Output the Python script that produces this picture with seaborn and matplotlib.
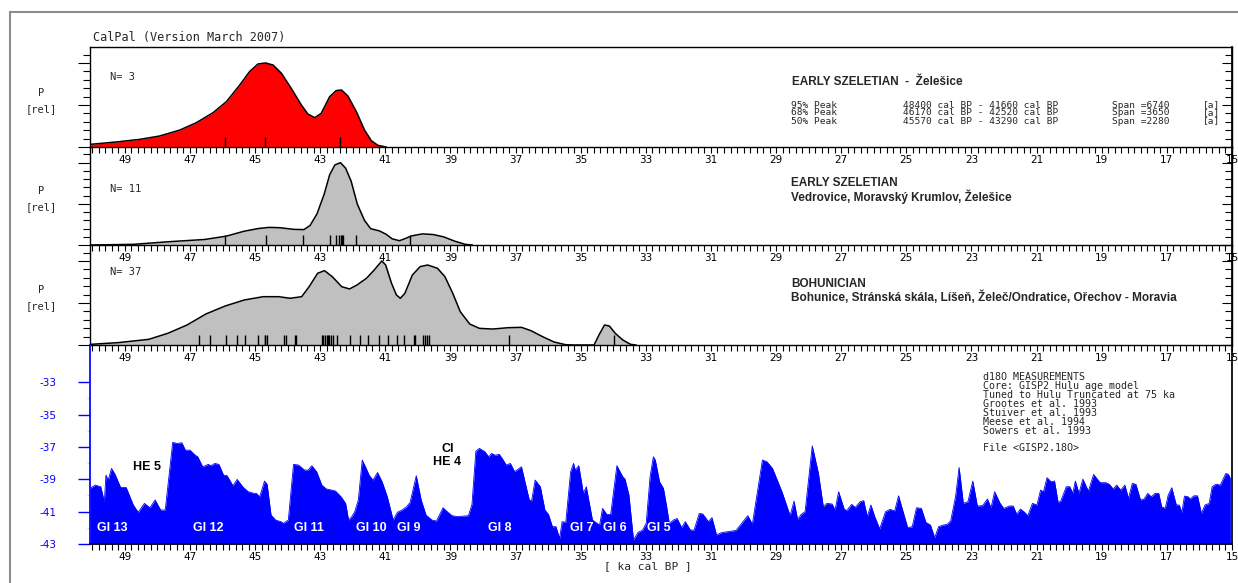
#!/usr/bin/env python3
'''
CalPal style summed probability plots of radiocarbon dates
(Early Szeletian / Bohunician) over the GISP2 d18O curve.
'''
import matplotlib
matplotlib.use("Agg")
import matplotlib.pyplot as plt
from matplotlib.patches import Rectangle
from matplotlib.ticker import MultipleLocator
import seaborn as sns

# --- data (ka cal BP) ---
ka_zel = [50.05, 49.26, 48.54, 47.93, 47.31, 46.80, 46.29, 45.88, 45.47, 45.17,
          44.91, 44.68, 44.45, 44.19, 43.89, 43.58, 43.38, 43.17, 42.97, 42.71,
          42.51, 42.35, 42.15, 41.89, 41.64, 41.43, 41.23, 40.97]
p_zel = [0.032, 0.06, 0.091, 0.131, 0.202, 0.29, 0.409, 0.54, 0.738, 0.897,
         0.988, 1.0, 0.976, 0.877, 0.698, 0.50, 0.393, 0.349, 0.40, 0.599,
         0.671, 0.679, 0.607, 0.421, 0.202, 0.075, 0.02, 0.0]
dates_zel = [45.91, 44.71, 42.40]

ka_szel = [50.05, 48.74, 47.64, 46.55, 45.89, 45.34, 44.90, 44.57, 44.24, 43.81,
           43.50, 43.31, 43.10, 42.88, 42.71, 42.55, 42.38, 42.22, 42.05, 41.86,
           41.64, 41.45, 41.18, 40.98, 40.79, 40.57, 40.41, 40.19, 39.86, 39.53,
           39.21, 38.88, 38.55, 38.33]
p_szel = [0.0, 0.008, 0.04, 0.067, 0.107, 0.167, 0.20, 0.214, 0.21, 0.19,
          0.187, 0.238, 0.377, 0.615, 0.853, 0.972, 1.0, 0.933, 0.774, 0.496,
          0.298, 0.198, 0.171, 0.131, 0.075, 0.052, 0.075, 0.111, 0.135, 0.127,
          0.099, 0.048, 0.008, 0.0]
dates_szel = [45.91, 44.68, 43.53, 42.69, 42.52, 42.43, 42.37, 42.33, 42.29,
              41.91, 40.25]

ka_bohu = [50.05, 49.21, 48.27, 47.68, 47.09, 46.51, 45.92, 45.33, 44.75, 44.28,
           43.92, 43.57, 43.34, 43.08, 42.87, 42.63, 42.34, 42.10, 41.87, 41.58,
           41.34, 41.11, 40.99, 40.81, 40.66, 40.54, 40.40, 40.17, 39.93, 39.70,
           39.40, 39.17, 38.93, 38.70, 38.41, 38.11, 37.70, 37.23, 36.82, 36.53,
           36.17, 35.82, 35.47, 35.23, 34.59, 34.44, 34.27, 34.12, 33.94, 33.71,
           33.47, 33.30]
p_bohu = [0.008, 0.028, 0.067, 0.139, 0.238, 0.369, 0.464, 0.536, 0.575, 0.575,
          0.556, 0.575, 0.694, 0.853, 0.885, 0.813, 0.694, 0.667, 0.714, 0.794,
          0.893, 1.0, 0.952, 0.734, 0.595, 0.556, 0.615, 0.833, 0.933, 0.952,
          0.913, 0.813, 0.615, 0.397, 0.25, 0.198, 0.19, 0.206, 0.21, 0.171,
          0.099, 0.036, 0.004, 0.0, 0.0, 0.119, 0.238, 0.226, 0.139, 0.06,
          0.008, 0.0]
dates_bohu = [46.72, 46.37, 45.88, 45.57, 45.31, 44.92, 44.71, 44.69, 44.63,
              44.10, 44.04, 43.78, 43.74, 42.95, 42.90, 42.85, 42.80, 42.76,
              42.74, 42.68, 42.61, 42.49, 42.08, 41.77, 41.52, 41.19, 40.92,
              40.64, 40.44, 40.13, 40.08, 39.84, 39.78, 39.72, 39.67, 37.21,
              33.97]

ka_gisp = [50.07, 49.91, 49.74, 49.63, 49.58, 49.51, 49.41, 49.30, 49.13, 48.96,
           48.74, 48.59, 48.40, 48.23, 48.07, 47.90, 47.76, 47.53, 47.39, 47.25,
           47.14, 47.00, 46.84, 46.76, 46.61, 46.44, 46.35, 46.24, 46.11, 45.97,
           45.86, 45.68, 45.55, 45.38, 45.21, 45.04, 44.96, 44.86, 44.71, 44.63,
           44.51, 44.37, 44.21, 44.13, 43.98, 43.82, 43.67, 43.48, 43.37, 43.26,
           43.11, 42.95, 42.81, 42.64, 42.53, 42.36, 42.22, 42.13, 42.03, 41.94,
           41.83, 41.71, 41.61, 41.50, 41.38, 41.24, 41.10, 40.94, 40.76, 40.63,
           40.49, 40.35, 40.24, 40.05, 39.90, 39.75, 39.57, 39.43, 39.23, 39.08,
           38.95, 38.78, 38.45, 38.34, 38.22, 38.11, 37.94, 37.83, 37.74, 37.63,
           37.50, 37.38, 37.29, 37.16, 37.03, 36.82, 36.58, 36.51, 36.40, 36.24,
           36.10, 35.99, 35.87, 35.76, 35.65, 35.57, 35.46, 35.31, 35.22, 35.17,
           35.06, 34.92, 34.83, 34.64, 34.42, 34.33, 34.20, 34.08, 33.89, 33.71,
           33.64, 33.52, 33.38, 33.24, 33.10, 32.99, 32.87, 32.77,
           32.71, 32.58, 32.46, 32.37, 32.28, 32.15, 32.04, 31.90, 31.79, 31.63,
           31.52, 31.36, 31.25, 31.08, 30.97, 30.83, 30.68, 30.23, 29.87, 29.73,
           29.42, 29.28, 29.11, 28.82, 28.57, 28.45, 28.34, 28.23, 28.11, 27.89,
           27.70, 27.55, 27.44, 27.28, 27.19, 27.08, 26.91, 26.83, 26.68, 26.57,
           26.42, 26.31, 26.20, 26.09, 25.97, 25.82, 25.64, 25.50, 25.36, 25.24,
           24.96, 24.82, 24.69, 24.54, 24.40, 24.26, 24.13, 24.01, 23.87, 23.75,
           23.64, 23.49, 23.38, 23.25, 23.11, 22.96, 22.82, 22.66, 22.51, 22.40,
           22.29, 22.12, 22.01, 21.83, 21.72, 21.61, 21.50, 21.39, 21.27, 21.13,
           20.99, 20.88, 20.79, 20.68, 20.56, 20.45, 20.34, 20.26, 20.09, 19.98,
           19.89, 19.81, 19.70, 19.58, 19.41, 19.25, 19.05, 18.87, 18.76, 18.65,
           18.54, 18.42, 18.29, 18.18, 18.06, 17.95, 17.81, 17.70, 17.59, 17.48,
           17.36, 17.25, 17.16, 17.05, 16.96, 16.85, 16.71, 16.62, 16.54, 16.46,
           16.35, 16.28, 16.17, 16.06, 15.94, 15.83, 15.70, 15.61, 15.49, 15.36,
           15.19, 15.11, 15.05]
d18o = [-39.56, -39.36, -39.46, -40.39, -38.74, -39.05, -38.33, -38.70, -39.50, -39.50,
        -40.59, -41.04, -40.49, -40.76, -40.28, -40.90, -40.90, -36.72, -36.79, -36.74,
        -37.20, -37.20, -37.51, -37.61, -38.23, -38.08, -38.16, -38.02, -38.08, -38.74,
        -38.78, -39.40, -39.01, -39.46, -39.77, -39.87, -39.87, -40.08, -39.11, -39.32,
        -41.21, -41.52, -41.62, -41.72, -41.52, -38.08, -38.12, -38.43, -38.43, -38.16,
        -38.53, -39.36, -39.60, -39.67, -39.73, -40.08, -40.49, -41.52, -41.31, -41.00,
        -40.28, -37.81, -38.23, -38.74, -39.05, -38.58, -39.15, -40.08, -41.52, -41.04,
        -40.90, -40.70, -40.43, -38.78, -40.28, -41.21, -41.52, -41.58, -40.76, -41.04,
        -41.25, -41.31, -41.25, -40.55, -37.26, -37.09, -37.30, -37.61, -37.40, -37.51,
        -37.46, -37.81, -38.12, -38.02, -38.53, -38.23, -40.28, -40.35, -39.05, -39.46,
        -40.90, -41.17, -41.93, -41.93, -42.65, -41.62, -41.66, -38.53, -38.02, -38.43,
        -38.16, -39.87, -39.46, -41.52, -41.83, -40.80, -41.17, -41.17, -38.16, -38.84,
        -38.99, -39.97, -42.75, -42.28, -42.14, -41.72, -38.84, -37.61,
        -37.81, -39.15, -39.56, -40.59, -41.72, -41.52, -41.42, -41.99, -41.62, -42.14,
        -42.14, -41.11, -41.15, -41.62, -41.37, -42.44, -42.30, -42.16, -41.25, -41.77,
        -37.81, -37.92, -38.33, -39.77, -41.25, -40.35, -41.48, -41.17, -41.00, -36.93,
        -38.64, -40.70, -40.49, -40.53, -40.90, -39.77, -40.84, -40.94, -40.55, -40.74,
        -40.39, -40.32, -41.31, -40.59, -41.31, -42.07, -41.00, -40.86, -40.96, -40.02,
        -41.99, -41.93, -40.76, -40.80, -41.66, -41.83, -42.61, -41.93, -41.83, -41.79,
        -41.58, -40.08, -38.27, -40.49, -40.39, -39.11, -40.65, -40.63, -40.22, -40.76,
        -39.77, -40.49, -40.80, -40.65, -40.65, -41.17, -40.84, -41.00, -41.25, -40.49,
        -40.59, -39.67, -39.77, -38.90, -39.15, -39.11, -40.43, -40.35, -39.46, -39.46,
        -39.87, -39.11, -39.87, -38.99, -39.73, -38.70, -39.21, -39.21, -39.32, -39.60,
        -39.36, -39.67, -39.36, -40.18, -39.25, -39.32, -40.28, -40.22, -39.87, -40.08,
        -39.87, -39.87, -40.70, -40.80, -39.98, -39.52, -40.59, -40.59, -41.05, -40.04,
        -40.08, -40.22, -40.02, -40.02, -41.11, -40.59, -40.49, -39.46, -39.30, -39.36,
        -38.64, -38.70, -38.95]

gi_labels = ['GI 13', 'GI 12', 'GI 11', 'GI 10', 'GI 9', 'GI 8', 'GI 7', 'GI 6', 'GI 5']
gi_ka = [49.40, 46.45, 43.36, 41.42, 40.29, 37.50, 34.98, 33.94, 32.59]

x_ticks = list(range(49, 14, -2))
d18o_ticks = [-33, -35, -37, -39, -41, -43]

W, H = 1238, 583
MONO = 'DejaVu Sans Mono'
BOLD = 'Liberation Sans'

sns.set_theme(style="white")
plt.rcParams['font.family'] = ['DejaVu Sans']
plt.rcParams['axes.unicode_minus'] = False

fig = plt.figure(figsize=(W / 100, H / 100), dpi=100)


def px(x, y):
    return x / W, 1 - y / H


def add_ax(top, bottom, left=90, right=1232):
    return fig.add_axes([left / W, 1 - bottom / H, (right - left) / W, (bottom - top) / H])


def style_xaxis(ax):
    ax.set_xlim(50.07, 15.03)
    ax.set_xticks(x_ticks, labels=[str(t) for t in x_ticks])
    ax.xaxis.set_minor_locator(MultipleLocator(0.2))
    ax.tick_params(axis='x', which='both', bottom=True, direction='out',
                   length=4, width=0.8, color='black', labelsize=7.5, pad=1.5,
                   labelcolor='black')


def density_panel(ax, ka, p, dates, fill, top_spine):
    ax.fill_between(ka, 0, p, color=fill, lw=0)
    sns.lineplot(x=ka, y=p, ax=ax, color='black', lw=1.1, estimator=None, sort=False)
    sns.rugplot(x=dates, ax=ax, height=0.1, color='black', lw=0.9, expand_margins=False)
    ax.set_xlabel('')
    ax.set_ylabel('')
    ax.set_ylim(0, 1.19)
    style_xaxis(ax)
    ax.set_yticks([0, 0.5, 1.0])
    ax.yaxis.set_minor_locator(MultipleLocator(0.1))
    ax.tick_params(axis='y', which='major', left=True, direction='out', length=9,
                   width=0.8, color='black', labelleft=False)
    ax.tick_params(axis='y', which='minor', left=True, direction='out', length=5,
                   width=0.8, color='black')
    sec = ax.secondary_yaxis('right')
    sec.set_yticks([0, 0.5, 1.0], labels=['', '', ''])
    sec.yaxis.set_minor_locator(MultipleLocator(0.1))
    sec.tick_params(axis='y', which='major', direction='in', length=7, width=0.8,
                    color='black')
    sec.tick_params(axis='y', which='minor', direction='in', length=5, width=0.8,
                    color='black')
    sec.spines['right'].set_color('black')
    for name, s in ax.spines.items():
        s.set_color('black')
        s.set_linewidth(1)
    ax.spines['top'].set_visible(top_spine)
    ax.patch.set_alpha(0)


ax1 = add_ax(47, 147)
density_panel(ax1, ka_zel, p_zel, dates_zel, '#ff0000', True)
ax2 = add_ax(147, 245)
density_panel(ax2, ka_szel, p_szel, dates_szel, '#c0c0c0', False)
ax3 = add_ax(245, 345)
density_panel(ax3, ka_bohu, p_bohu, dates_bohu, '#c0c0c0', False)

# d18O curve
axd = add_ax(345, 544)
axd.fill_between(ka_gisp, -43, d18o, color='#0000ff', lw=0)
sns.lineplot(x=ka_gisp, y=d18o, ax=axd, color='#0000ff', lw=0.6, estimator=None, sort=False)
axd.set_xlabel('')
axd.set_ylabel('')
axd.set_ylim(-43, -30.7)
style_xaxis(axd)
axd.set_yticks(d18o_ticks, labels=[str(v) for v in d18o_ticks])
axd.set_yticks([-34, -36, -38, -40, -42], minor=True)
axd.tick_params(axis='y', which='major', left=True, direction='out', length=9,
                width=1, colors='#0000ff', labelsize=7.5, pad=15)
axd.tick_params(axis='y', which='minor', left=True, direction='out', length=2,
                width=1, colors='#d0d0f0')
axd.spines['top'].set_visible(False)
axd.spines['left'].set_color('#0000ff')
axd.spines['right'].set_color('black')
axd.spines['bottom'].set_color('black')
axd.patch.set_alpha(0)

for lab, t in zip(gi_labels, gi_ka):
    axd.text(t, -42.0, lab, color='white', fontsize=9, fontweight='bold',
             family=BOLD, ha='center', va='center')
axd.text(48.33, -38.25, 'HE 5', color='black', fontsize=9, fontweight='bold',
         family=BOLD, ha='center', va='center')
axd.text(39.09, -37.55, 'CI\nHE 4', color='black', fontsize=9, fontweight='bold',
         family=BOLD, ha='center', va='center', linespacing=1.1)

# texts
fig.text(*px(93, 37), 'CalPal (Version March 2007)', family=MONO, fontsize=8.5, va='center')
for y_n, n_txt in [(77, 'N= 3'), (189, 'N= 11'), (272, 'N= 37')]:
    fig.text(*px(110, y_n), n_txt, family=MONO, fontsize=7.5, va='center')
for y_p in [93, 191, 290]:
    fig.text(*px(41, y_p), 'P', family=MONO, fontsize=7.5, ha='center', va='center')
    fig.text(*px(41, y_p + 16), '[rel]', family=MONO, fontsize=7.5, ha='center', va='center')

fig.text(*px(792, 82), 'EARLY SZELETIAN  -  Želešice', family=BOLD, fontweight='bold',
         fontsize=8.5, va='center')
peak_rows = [('95% Peak', '48400 cal BP - 41660 cal BP', 'Span =6740'),
             ('68% Peak', '46170 cal BP - 42520 cal BP', 'Span =3650'),
             ('50% Peak', '45570 cal BP - 43290 cal BP', 'Span =2280')]
for i, (a, b, c) in enumerate(peak_rows):
    y = 105 + 8 * i
    fig.text(*px(791, y), a, family=MONO, fontsize=6.8, va='center')
    fig.text(*px(903, y), b, family=MONO, fontsize=6.8, va='center')
    fig.text(*px(1112, y), c, family=MONO, fontsize=6.8, va='center')
    fig.text(*px(1203, y), '[a]', family=MONO, fontsize=6.8, va='center')

fig.text(*px(791, 183), 'EARLY SZELETIAN', family=BOLD, fontweight='bold', fontsize=8.5, va='center')
fig.text(*px(791, 197), 'Vedrovice, Moravský Krumlov, Želešice', family=BOLD,
         fontweight='bold', fontsize=8.5, va='center')
fig.text(*px(791, 284), 'BOHUNICIAN', family=BOLD, fontweight='bold', fontsize=8.5, va='center')
fig.text(*px(791, 297), 'Bohunice, Stránská skála, Líšeň, Želeč/Ondratice, Ořechov - Moravia',
         family=BOLD, fontweight='bold', fontsize=8.5, va='center')

info = ['d18O MEASUREMENTS', 'Core: GISP2 Hulu age model',
        'Tuned to Hulu Truncated at 75 ka', 'Grootes et al. 1993',
        'Stuiver et al. 1993', 'Meese et al. 1994', 'Sowers et al. 1993']
for i, line in enumerate(info):
    fig.text(*px(983, 377 + 9 * i), line, family=MONO, fontsize=7.2, va='center')
fig.text(*px(983, 448), 'File <GISP2.18O>', family=MONO, fontsize=7.2, va='center')

fig.text(*px(648, 566), '[ ka cal BP ]', family=MONO, fontsize=8, ha='center', va='center')

# outer frame
fig.add_artist(Rectangle((10 / W, -0.02), 1.0, 1 - 12 / H + 0.02, transform=fig.transFigure,
                         fill=False, edgecolor='#8c8c8c', lw=1.5))

fig.savefig('out.png', dpi=100)
